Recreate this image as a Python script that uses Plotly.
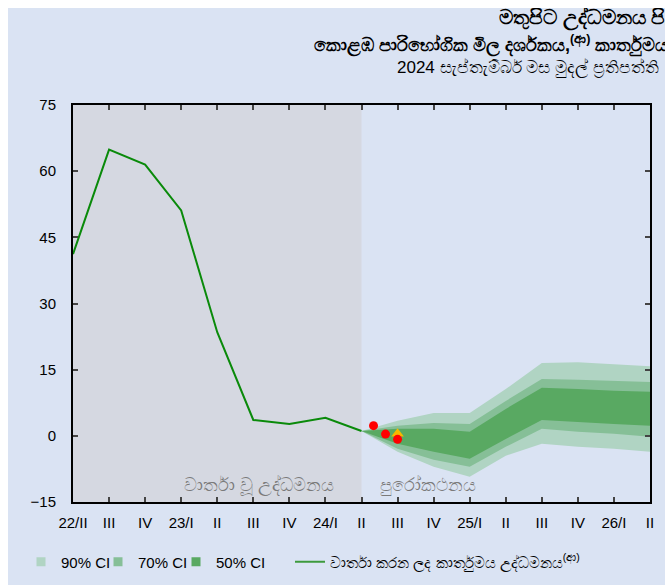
import plotly.graph_objects as go

# ---- data ----
tick_labels = ["22/II", "III", "IV", "23/I", "II", "III", "IV", "24/I", "II",
               "III", "IV", "25/I", "II", "III", "IV", "26/I", "II"]
hist_x = [0, 1, 2, 3, 4, 5, 6, 7, 8]
hist_y = [41.2, 64.9, 61.5, 51.1, 23.5, 3.6, 2.7, 4.1, 1.1]

fc_x = [8, 9, 10, 11, 12, 13, 14, 15, 16]
ci90_hi = [1.1, 3.4, 5.2, 5.2, 10.6, 16.5, 16.7, 16.3, 15.8]
ci70_hi = [1.1, 2.3, 2.9, 2.7, 7.9, 12.9, 12.7, 12.4, 12.2]
ci50_hi = [1.1, 1.6, 1.6, 0.9, 6.1, 10.9, 10.6, 10.2, 10.0]
ci50_lo = [1.1, -1.8, -3.6, -5.2, -0.7, 3.6, 3.2, 2.7, 2.3]
ci70_lo = [1.1, -2.9, -5.4, -7.0, -2.5, 1.6, 0.9, 0.5, -0.2]
ci90_lo = [1.1, -3.6, -7.0, -9.3, -4.5, -1.8, -2.5, -2.9, -3.6]

month_x = [8 + 1/3, 8 + 2/3, 9]
month_y = [2.3, 0.4, -0.8]
qavg_x = [9]
qavg_y = [0.5]

C90 = "#b0d4c3"
C70 = "#86bf97"
C50 = "#59a962"
CLINE = "#0a8a0a"
BG = "#dae3f3"
GREY = "#d5d8e1"

# figure is wider/taller than the window (page adds an 8px body margin)
W, H = 720, 640
L, T = 65, 97
R = W - (650 - 8)
B = H - (502 - 8)
PW = W - L - R
PH = H - T - B

fig = go.Figure()

def band(hi, lo, color):
    xs = fc_x + fc_x[::-1]
    ys = hi + lo[::-1]
    fig.add_trace(go.Scatter(x=xs, y=ys, fill="toself", fillcolor=color,
                             line=dict(width=0, color=color), mode="lines",
                             showlegend=False, hoverinfo="skip"))

band(ci90_hi, ci90_lo, C90)
band(ci70_hi, ci70_lo, C70)
band(ci50_hi, ci50_lo, C50)

fig.add_trace(go.Scatter(x=hist_x, y=hist_y, mode="lines",
                         line=dict(color=CLINE, width=2), showlegend=False))
fig.add_trace(go.Scatter(x=qavg_x, y=qavg_y, mode="markers",
                         marker=dict(symbol="triangle-up", size=11, color="#f5b800"),
                         showlegend=False))
fig.add_trace(go.Scatter(x=month_x, y=month_y, mode="markers",
                         marker=dict(symbol="circle", size=9, color="#ff0000"),
                         showlegend=False))

# legend entries (each in its own legend box for exact placement)
for name, col, lg in [("90% CI", C90, "legend"), ("70% CI", C70, "legend3"),
                      ("50% CI", C50, "legend4")]:
    fig.add_trace(go.Scatter(x=[None], y=[None], mode="markers", name=name,
                             legend=lg,
                             marker=dict(symbol="square", size=9, color=col)))
fig.add_trace(go.Scatter(x=[None], y=[None], mode="lines", legend="legend2",
                         name="වාර්තා කරන ලද කාර්තුමය උද්ධමනය<sup>(ආ)</sup>",
                         line=dict(color="#3c9a3c", width=2)))

fig.add_shape(type="rect", xref="x", yref="paper", x0=0, x1=8, y0=0, y1=1,
              fillcolor=GREY, line=dict(width=0), layer="below")

fig.add_annotation(x=5.15, y=-11.3, text="වාර්තා වූ උද්ධමනය", showarrow=False,
                   font=dict(size=18, color="#7a7a7a"))
fig.add_annotation(x=9.85, y=-11.3, text="පුරෝකථනය", showarrow=False,
                   font=dict(size=18, color="#7a7a7a"))

def px_x(p):
    return (p - 8 - L) / PW

def px_y(p):
    return 1 + (T - (p - 8)) / PH

fig.add_annotation(xref="paper", yref="paper", x=px_x(497), y=px_y(18),
                   xanchor="left", yanchor="middle", showarrow=False,
                   text="<b>මතුපිට උද්ධමනය පිළිබඳ පුරෝකථනය</b>",
                   font=dict(size=20, color="black"))
fig.add_annotation(xref="paper", yref="paper", x=px_x(312), y=px_y(45),
                   xanchor="left", yanchor="middle", showarrow=False,
                   text="<b>කොළඹ පාරිභෝගික මිල දර්ශකය,<sup>(ආ)</sup> කාර්තුමය (%)</b>",
                   font=dict(size=18, color="black"))
fig.add_annotation(xref="paper", yref="paper", x=px_x(395), y=px_y(68),
                   xanchor="left", yanchor="middle", showarrow=False,
                   text="2024 සැප්තැම්බර් මස මුදල් ප්‍රතිපත්ති",
                   font=dict(size=17, color="black"))

leg_y = 1 - (562 - 8) / H

def leg(px):
    return dict(orientation="h", xref="container", yref="container",
                x=(px - 8) / W, xanchor="left", y=leg_y, yanchor="middle",
                bgcolor="rgba(0,0,0,0)", font=dict(size=15))

fig.update_layout(
    width=W, height=H,
    margin=dict(l=L, r=R, t=T, b=B, autoexpand=False),
    paper_bgcolor=BG, plot_bgcolor=BG,
    font=dict(family="Arial", size=15, color="black"),
    showlegend=True,
    legend=leg(21), legend3=leg(98), legend4=leg(176), legend2=leg(290),
)
fig.update_xaxes(range=[0, 16], tickmode="array", tickvals=list(range(17)),
                 ticktext=tick_labels, ticks="inside", ticklen=5, tickwidth=2,
                 showline=True, linewidth=2, linecolor="black", mirror="ticks",
                 showgrid=False, zeroline=False, tickfont=dict(size=15),
                 ticklabelstandoff=6)
fig.update_yaxes(range=[-15, 75], dtick=15, tick0=0, ticks="inside", ticklen=5,
                 tickwidth=2, showline=True, linewidth=2, linecolor="black",
                 mirror="ticks", showgrid=False, zeroline=False,
                 tickfont=dict(size=15), ticklabelstandoff=12)

fig.write_html("out.html",
               post_script="document.documentElement.style.overflow='hidden';"
                           "document.body.style.overflow='hidden';"
                           "document.body.style.margin='8px 0 0 8px';"
                           "document.body.style.width='720px';")
